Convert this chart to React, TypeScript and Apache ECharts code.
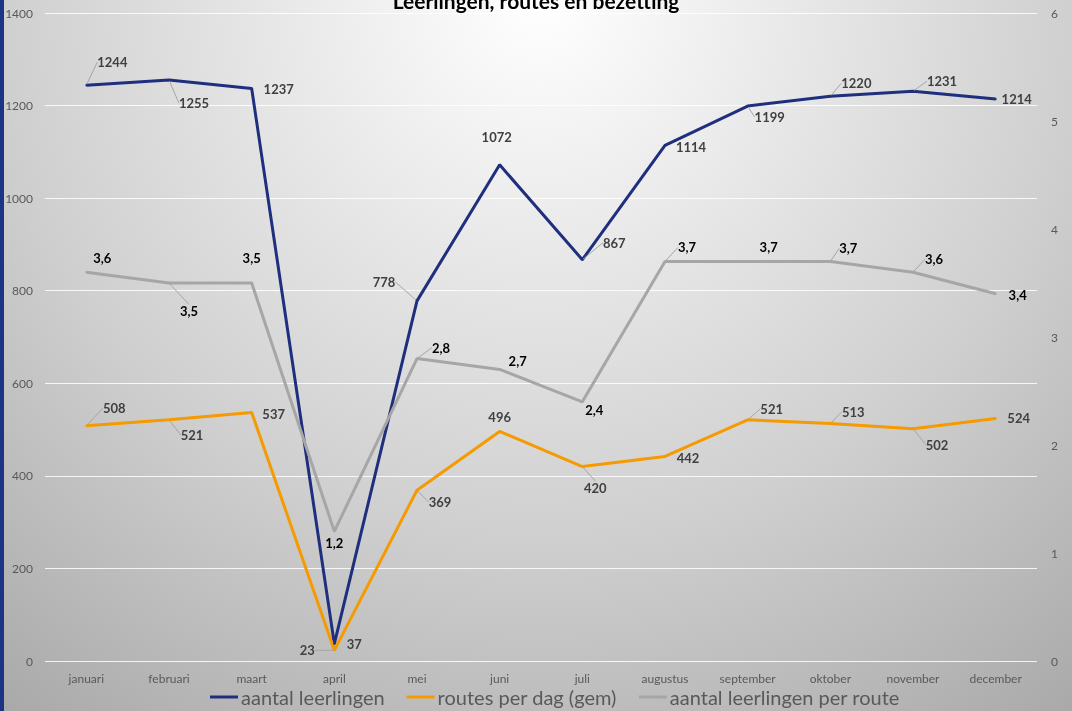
import React, { useEffect, useRef } from "react";
import * as echarts from "echarts";

const months = ["januari", "februari", "maart", "april", "mei", "juni", "juli", "augustus", "september", "oktober", "november", "december"];
const leerlingen = [1244, 1255, 1237, 37, 778, 1072, 867, 1114, 1199, 1220, 1231, 1214];
const routes = [508, 521, 537, 23, 369, 496, 420, 442, 521, 513, 502, 524];
const bezetting = [3.6, 3.5, 3.5, 1.2, 2.8, 2.7, 2.4, 3.7, 3.7, 3.7, 3.6, 3.4];

const seriesNames = ["aantal leerlingen", "routes per dag (gem)", "aantal leerlingen per route"];

// label layout (pixel offsets from point to label centre) and leader flags
const blueOffsets = [[26, -23], [25, 23], [27, 1], [20, 0], [-33, -19], [-3, -28], [32, -17], [26, 2], [22, 11], [26, -13], [29, -10], [21, 0]];
const blueLeader = [1, 1, 0, 0, 1, 0, 1, 0, 1, 1, 1, 0];
const orangeOffsets = [[28, -18], [23, 15], [22, 2], [-27, 0], [23, 12], [0, -14], [13, 21], [23, 2], [24, -11], [23, -12], [24, 16], [23, 0]];
const orangeLeader = [1, 1, 0, 1, 1, 0, 1, 0, 1, 1, 1, 0];
const greyOffsets = [[16, -14], [20, 28], [0, -25], [0, 12], [24, -11], [18, -8], [12, 8], [22, -14], [21, -14], [18, -13], [21, -13], [22, 1]];
const greyLeader = [0, 1, 0, 0, 1, 0, 0, 1, 0, 1, 1, 0];

const FONT = "Lato";

function makeData(values: number[], leader: number[]) {
  return values.map((v, i) => ({ value: v, labelLine: { show: leader[i] === 1 } }));
}

function makeSeries(name: string, values: number[], leader: number[], offsets: number[][], color: string, labelColor: string, yIndex: number, fmt?: (v: number) => string) {
  return {
    name,
    type: "line",
    yAxisIndex: yIndex,
    data: makeData(values, leader),
    symbol: "circle",
    symbolSize: 2,
    showSymbol: true,
    lineStyle: { color, width: 3 },
    itemStyle: { color },
    label: {
      show: true,
      position: "inside",
      color: labelColor,
      fontWeight: "bold",
      fontSize: 13,
      fontFamily: FONT,
      formatter: (p: any) => (fmt ? fmt(p.value) : String(p.value)),
    },
    labelLine: { show: false, lineStyle: { color: "#a6a6a6", width: 1 } },
    labelLayout: (p: any) => ({ dx: offsets[p.dataIndex][0], dy: offsets[p.dataIndex][1] }),
    emphasis: { disabled: true },
  };
}

export default function App() {
  const ref = useRef<HTMLDivElement>(null);
  useEffect(() => {
    if (!ref.current) return;
    const chart = echarts.init(ref.current, null, { renderer: "svg" });
    chart.setOption({
      animation: false,
      backgroundColor: "transparent",
      title: {
        text: "Leerlingen, routes en bezetting",
        left: "center",
        top: -15,
        textStyle: { fontFamily: FONT, fontWeight: "bold", fontSize: 21, color: "#000" },
      },
      legend: {
        bottom: -1,
        left: 205,
        itemWidth: 28,
        itemHeight: 3,
        itemGap: 22,
        icon: "rect",
        data: seriesNames,
        textStyle: { fontFamily: FONT, fontSize: 20, color: "#595959", padding: [0, 0, 0, -2] },
      },
      grid: { left: 45, right: 35, top: 13, bottom: 50 },
      xAxis: {
        type: "category",
        data: months,
        boundaryGap: true,
        axisLine: { show: false },
        axisTick: { show: false },
        axisLabel: { fontFamily: FONT, fontSize: 12, color: "#595959", margin: 11 },
      },
      yAxis: [
        {
          type: "value",
          min: 0,
          max: 1400,
          interval: 200,
          axisLine: { show: false },
          axisTick: { show: false },
          axisLabel: { fontFamily: FONT, fontSize: 12, color: "#595959", margin: 12, formatter: (v: number) => String(v) },
          splitLine: { lineStyle: { color: "rgba(255,255,255,0.85)", width: 1 } },
        },
        {
          type: "value",
          min: 0,
          max: 6,
          interval: 1,
          axisLine: { show: false },
          axisTick: { show: false },
          axisLabel: { fontFamily: FONT, fontSize: 12, color: "#595959", margin: 14, formatter: (v: number) => String(v) },
          splitLine: { show: false },
        },
      ],
      series: [
        makeSeries(seriesNames[0], leerlingen, blueLeader, blueOffsets, "#1F2F7E", "#404040", 0),
        makeSeries(seriesNames[1], routes, orangeLeader, orangeOffsets, "#F59A00", "#404040", 0),
        makeSeries(seriesNames[2], bezetting, greyLeader, greyOffsets, "#A6A6A6", "#000000", 1, (v) => String(v).replace(".", ",")),
      ],
    });
    return () => chart.dispose();
  }, []);

  return (
    <div style={{ position: "fixed", left: 0, top: 0, width: 1072, height: 711, overflow: "hidden", background: "radial-gradient(circle 900px at 540px 0px, #ffffff 0%, #ebebeb 25%, #cfcfcf 60%, #a8a8a8 100%)" }}>
      <div style={{ position: "absolute", left: 0, top: 0, width: 4, height: 711, background: "#1B3483" }} />
      <div ref={ref} style={{ position: "absolute", left: 0, top: 0, width: 1072, height: 711 }} />
    </div>
  );
}
